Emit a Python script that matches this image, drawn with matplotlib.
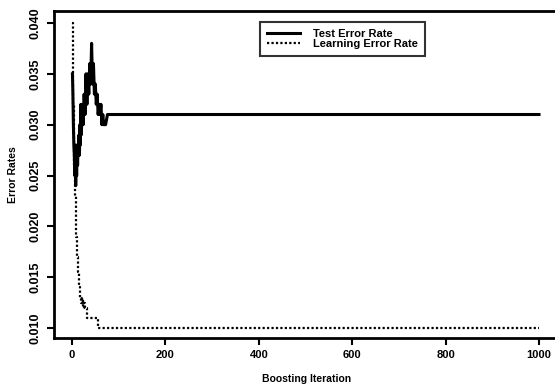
import numpy as np
import matplotlib.pyplot as plt

# test error rate (boosting iteration, error)
test_iter = [1, 2, 3, 4, 5, 6, 7, 8, 9, 10, 11, 12, 13, 14, 15, 16, 17, 18, 19, 20,
             22, 24, 26, 28, 30, 32, 34, 36, 38, 40, 42, 44, 46, 48, 50, 52, 54, 56,
             58, 60, 62, 64, 66, 68, 70, 72, 76, 80, 1000]
test_err = [0.035, 0.033, 0.030, 0.028, 0.027, 0.025, 0.028, 0.024, 0.027, 0.025,
            0.028, 0.026, 0.028, 0.027, 0.029, 0.027, 0.030, 0.028, 0.032, 0.029,
            0.032, 0.030, 0.033, 0.031, 0.035, 0.032, 0.035, 0.033, 0.036, 0.034,
            0.038, 0.034, 0.036, 0.033, 0.034, 0.032, 0.033, 0.031, 0.032, 0.031,
            0.032, 0.030, 0.031, 0.030, 0.030, 0.030, 0.031, 0.031, 0.031]

# learning error rate
learn_iter = [1, 2, 3, 4, 5, 6, 7, 8, 9, 10, 11, 12, 13, 14, 15, 16, 17, 18, 20,
              22, 24, 26, 28, 30, 32, 56, 1000]
learn_err = [0.040, 0.036, 0.032, 0.029, 0.026, 0.0245, 0.023, 0.0205, 0.019,
             0.018, 0.017, 0.016, 0.0155, 0.015, 0.0145, 0.014, 0.0135, 0.013,
             0.0125, 0.013, 0.012, 0.0125, 0.012, 0.012, 0.011, 0.010, 0.010]

xticks = [0, 200, 400, 600, 800, 1000]
yticks = [0.010, 0.015, 0.020, 0.025, 0.030, 0.035, 0.040]

plt.rcParams['font.family'] = ['Liberation Sans', 'DejaVu Sans']
plt.rcParams['font.weight'] = 'bold'

fig = plt.figure(figsize=(5.55, 3.92), dpi=100)
ax = fig.add_axes([54 / 555, 54 / 392, 506 / 555, 327 / 392])

ax.plot(test_iter, test_err, color='black', lw=2.2, label='Test Error Rate')
ax.plot(learn_iter, learn_err, color='black', lw=1.6, ls=(0, (1, 1)),
        drawstyle='steps-post', label='Learning Error Rate')

ax.set_xlim(-38.5, 1045)
ax.set_ylim(0.00902, 0.04118)
ax.set_xticks(xticks)
ax.set_xticklabels([str(t) for t in xticks], fontsize=8, fontweight='bold')
ax.set_yticks(yticks)
ax.set_yticklabels(['%.3f' % t for t in yticks], fontsize=9, fontweight='bold',
                   rotation=90, va='center')
ax.tick_params(direction='out', length=5, width=1.5, pad=4)
for s in ax.spines.values():
    s.set_linewidth(2)

ax.set_xlabel('Boosting Iteration', fontsize=7.5, fontweight='bold', labelpad=10)
ax.set_ylabel('Error Rates', fontsize=7.5, fontweight='bold', labelpad=8)

leg = ax.legend(loc='upper left', bbox_to_anchor=(0.407, 0.966), borderaxespad=0,
                fontsize=8, frameon=True, fancybox=False, handlelength=3.0,
                handletextpad=1.2, borderpad=0.6, labelspacing=0.05)
leg.get_frame().set_edgecolor('black')
leg.get_frame().set_linewidth(1.5)
for t in leg.get_texts():
    t.set_fontweight('bold')

fig.savefig('out.png', dpi=100)
